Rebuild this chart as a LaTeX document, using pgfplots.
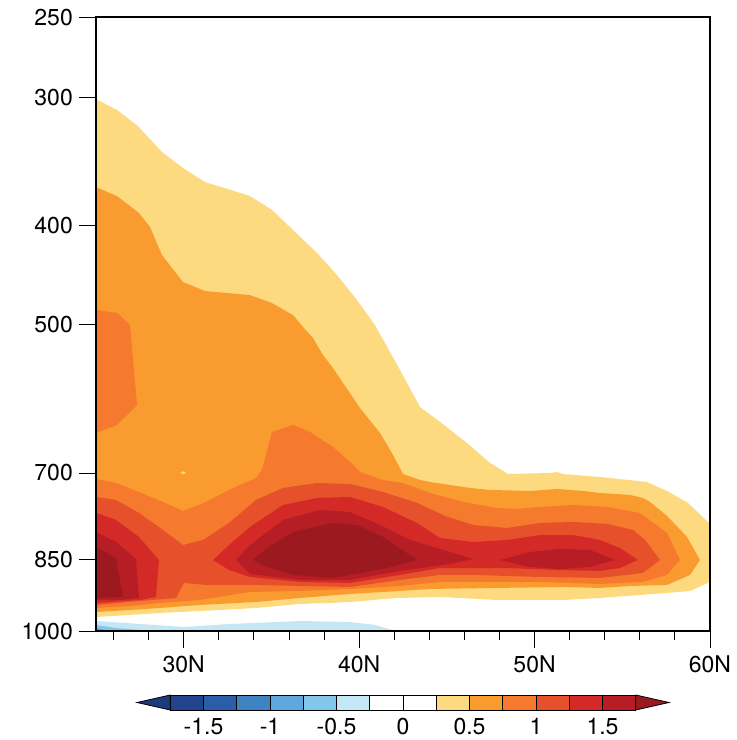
\documentclass[border=0pt]{standalone}
\usepackage{fontspec}
\setmainfont{TeX Gyre Heros}
\usepackage{pgfplots}
\pgfplotsset{compat=1.18}

\definecolor{cb1}{HTML}{1C3A7C}
\definecolor{cb2}{HTML}{22448C}
\definecolor{cb3}{HTML}{2A5EA8}
\definecolor{cb4}{HTML}{3F84C2}
\definecolor{cb5}{HTML}{5EA8DC}
\definecolor{cb6}{HTML}{82C6EC}
\definecolor{cb7}{HTML}{C4E7F6}
\definecolor{cr1}{HTML}{FDD980}
\definecolor{cr2}{HTML}{FA9B30}
\definecolor{cr3}{HTML}{F57A2E}
\definecolor{cr4}{HTML}{E6512B}
\definecolor{cr5}{HTML}{D42A27}
\definecolor{cr6}{HTML}{B61D24}
\definecolor{cr7}{HTML}{9C1A1F}

\begin{document}
\begin{tikzpicture}
\useasboundingbox (0,0) rectangle (737pt,740pt);

\begin{axis}[
    at={(96pt,109pt)}, anchor=south west,
    width=614pt, height=614pt, scale only axis,
    xmin=25, xmax=60, ymin=250, ymax=1000,
    ymode=log, y dir=reverse,
    xtick={30,40,50,60}, xticklabels={30N,40N,50N,60N},
    minor xtick={26,28,...,58},
    ytick={250,300,400,500,700,850,1000},
    yticklabels={250,300,400,500,700,850,1000},
    yminorticks=false,
    tick align=outside, xtick pos=left, ytick pos=left,
    major tick length=17pt, minor tick length=9pt,
    every tick/.style={black, line width=0.9pt},
    axis line style={line width=1.2pt},
    axis on top,
    tick label style={font=\fontsize{23}{26}\selectfont},
    xticklabel style={anchor=north, inner sep=0pt, yshift=-8pt},
    yticklabel style={anchor=east, inner sep=0pt, xshift=-6pt},
]
% >= 0.25
\addplot[fill=cr1, draw=none] coordinates {
 (25,300.9) (26.20,308.4) (27.39,319.8) (28.76,339.1) (29.96,351.6) (31.21,362.9)
 (32.52,368.7) (33.78,374.6) (35.03,386.5) (36.23,404.4) (37.60,425.9) (38.79,448.7)
 (39.88,473.7) (40.90,501.1) (42.33,554.7) (43.47,603.1) (44.61,623.8) (46.15,654.1)
 (47.46,684.3) (48.49,701.5) (50.88,699.9) (51.28,698.4) (51.62,701.5) (53.73,706.3)
 (56.41,714.4) (57.55,728.9) (58.74,748.9) (60,785.2) (60,895.1) (58.86,913.5)
 (57.55,917.6) (53.73,928.1) (51.62,932.3) (47.86,932.3) (44.61,926.0) (42.16,928.1)
 (39.48,936.5) (38.34,938.6) (36.63,940.7) (34.12,949.3) (30.93,955.8) (28.65,960.1)
 (26.94,964.4) (25,968.8)
} -- cycle;
% >= 0.5
\addplot[fill=cr2, draw=none] coordinates {
 (25,367.0) (26.20,374.6) (27.45,389.1) (28.08,401.7) (28.76,427.9) (29.96,454.8)
 (31.21,464.1) (33.78,468.4) (35.03,476.9) (36.23,490.0) (36.80,503.4) (37.37,516.1)
 (37.94,536.3) (38.51,552.2) (39.08,571.2) (40.05,604.5) (41.19,639.5) (41.87,669.1)
 (42.50,701.5) (43.47,711.1) (44.04,714.4) (46.32,724.0) (47.46,727.3) (49.74,728.9)
 (51.28,725.7) (52.76,728.9) (53.73,732.2) (55.44,735.6) (56.18,740.6) (56.58,747.3)
 (57.55,771.3) (58.69,808.7) (59.43,851.8) (58.86,881.1) (57.55,901.2) (55.44,903.3)
 (53.73,907.3) (51.62,905.3) (47.86,907.3) (44.04,909.4) (42.33,913.5) (39.48,919.7)
 (36.63,928.1) (34.12,936.5) (30.93,942.9) (28.65,949.3) (26.94,953.6) (25,958.0)
} -- cycle;
% small speck >= 0.25 inside
\addplot[fill=cr1, draw=none] coordinates {
 (29.79,699.9) (29.96,697.2) (30.14,699.9) (29.96,701.5)
} -- cycle;
% >= 0.75, left island
\addplot[fill=cr3, draw=none] coordinates {
 (25,484.5) (26.20,487.7) (26.94,501.1) (27.34,600.4) (26.20,627.9) (25,639.5)
} -- cycle;
% >= 0.75, main
\addplot[fill=cr3, draw=none] coordinates {
 (25,709.5) (26.14,715.9) (27.45,730.6) (28.82,747.2) (29.96,762.6) (31.27,747.2)
 (32.58,727.3) (34.12,707.9) (34.46,695.2) (35.03,638.0) (36.23,627.9) (37.20,638.0)
 (38.51,660.1) (39.48,682.7) (40.05,698.4) (41.36,711.1) (42.50,715.9) (44.04,732.2)
 (45.92,747.2) (47.86,757.5) (49.00,759.2) (50.31,755.8) (52.19,752.4) (54.13,755.8)
 (56.01,766.0) (57.55,801.4) (58.29,851.8) (57.55,881.1) (56.18,895.1) (53.73,899.2)
 (50.31,895.1) (46.49,895.1) (44.61,895.1) (42.33,903.3) (39.48,909.4) (36.63,913.5)
 (33.78,915.6) (30.93,932.3) (28.65,938.6) (26.94,945.1) (25,949.3)
} -- cycle;
% >= 1.0
\addplot[fill=cr4, draw=none] coordinates {
 (25,738.9) (26.14,743.9) (27.45,766.0) (28.82,796.1) (29.96,823.5) (31.10,814.2)
 (32.58,783.6) (34.12,743.9) (35.66,724.0) (37.60,715.9) (39.48,717.5) (41.36,730.6)
 (43.30,748.9) (44.90,771.3) (46.49,787.1) (48.43,792.5) (50.31,783.6) (52.19,781.7)
 (54.13,785.2) (55.61,796.1) (56.30,814.2) (57.15,851.8) (56.18,877.1) (53.73,887.1)
 (50.31,885.1) (46.49,881.1) (44.61,881.1) (42.33,891.1) (39.48,905.3) (36.63,903.3)
 (34.12,901.2) (31.27,901.2) (30.02,897.1) (29.56,928.1) (27.51,934.4) (25,942.9)
} -- cycle;
% >= 1.25
\addplot[fill=cr5, draw=none] coordinates {
 (25,766.0) (26.14,778.2) (27.45,808.7) (28.59,851.8) (28.42,926.0) (27.51,932.3) (25,938.6)
} -- cycle;
\addplot[fill=cr5, draw=none] coordinates {
 (31.67,851.8) (32.58,823.5) (33.78,790.7) (35.66,752.4) (37.60,740.6) (39.48,738.9)
 (41.36,755.8) (43.30,783.6) (44.61,810.5) (46.49,817.9) (48.43,814.2) (50.31,805.1)
 (52.19,805.1) (53.73,814.2) (54.87,829.1) (55.89,851.8) (54.87,867.4) (53.73,873.2)
 (51.28,871.3) (48.43,867.4) (46.49,867.4) (44.61,867.4) (42.33,881.1) (39.48,897.1)
 (36.63,895.1) (33.78,885.1) (32.58,871.3)
} -- cycle;
% >= 1.5
\addplot[fill=cr6, draw=none] coordinates {
 (25,799.6) (26.14,817.8) (27.28,849.9) (27.45,928.1) (26.37,932.3) (25,932.3)
} -- cycle;
\addplot[fill=cr6, draw=none] coordinates {
 (32.98,851.8) (33.78,823.5) (35.66,778.2) (37.77,760.9) (39.48,764.4) (41.19,787.1)
 (42.90,814.2) (45.18,836.6) (46.49,849.9) (45.18,859.5) (42.33,873.2) (39.48,891.1)
 (36.63,891.1) (33.78,879.1)
} -- cycle;
\addplot[fill=cr6, draw=none] coordinates {
 (48.03,851.8) (49.74,836.6) (51.45,830.9) (53.16,832.8) (54.58,851.8) (53.16,865.4)
 (51.45,869.4) (49.74,865.4)
} -- cycle;
% >= 1.75
\addplot[fill=cr7, draw=none] coordinates {
 (25,827.2) (26.14,848.0) (26.54,926.0) (25,928.1)
} -- cycle;
\addplot[fill=cr7, draw=none] coordinates {
 (33.95,851.8) (34.75,829.1) (36.23,799.6) (38.51,783.6) (39.88,787.1) (41.36,808.7)
 (43.30,851.8) (41.36,869.4) (38.51,887.1) (36.23,881.1) (34.75,865.4)
} -- cycle;
% <= -0.25 near the surface
\addplot[fill=cb7, draw=none] coordinates {
 (25,977.6) (27.51,984.2) (30.02,990.9) (32.64,984.2) (36.63,977.6) (39.48,979.8)
 (40.90,986.4) (42.10,1000) (25,1000)
} -- cycle;
\addplot[fill=cb6, draw=none] coordinates {
 (25,986.4) (26.09,993.1) (27.51,997.5) (28.65,1000) (25,1000)
} -- cycle;
\addplot[fill=cb5, draw=none] coordinates {
 (25,993.1) (25.80,1000) (25,1000)
} -- cycle;
\end{axis}

% colour bar
\begin{axis}[
    at={(137pt,30pt)}, anchor=south west,
    width=532pt, height=15pt, scale only axis,
    xmin=-2, xmax=2, ymin=0, ymax=1,
    clip=false,
    axis line style={draw=none},
    major tick length=0pt,
    ytick=\empty,
    xtick={-1.5,-1,-0.5,0,0.5,1,1.5},
    xticklabels={-1.5,-1,-0.5,0,0.5,1,1.5},
    xtick pos=left,
    tick label style={font=\fontsize{23}{26}\selectfont},
    xticklabel style={anchor=north, inner sep=0pt, yshift=-8pt},
]
\addplot[fill=cb1, draw=black, line width=0.8pt] coordinates {(-1.75,0) (-2,0.5) (-1.75,1)} -- cycle;
\addplot[fill=cb2, draw=black, line width=0.8pt] coordinates {(-1.75,0) (-1.5,0) (-1.5,1) (-1.75,1)} -- cycle;
\addplot[fill=cb3, draw=black, line width=0.8pt] coordinates {(-1.5,0) (-1.25,0) (-1.25,1) (-1.5,1)} -- cycle;
\addplot[fill=cb4, draw=black, line width=0.8pt] coordinates {(-1.25,0) (-1,0) (-1,1) (-1.25,1)} -- cycle;
\addplot[fill=cb5, draw=black, line width=0.8pt] coordinates {(-1,0) (-0.75,0) (-0.75,1) (-1,1)} -- cycle;
\addplot[fill=cb6, draw=black, line width=0.8pt] coordinates {(-0.75,0) (-0.5,0) (-0.5,1) (-0.75,1)} -- cycle;
\addplot[fill=cb7, draw=black, line width=0.8pt] coordinates {(-0.5,0) (-0.25,0) (-0.25,1) (-0.5,1)} -- cycle;
\addplot[fill=white, draw=black, line width=0.8pt] coordinates {(-0.25,0) (0,0) (0,1) (-0.25,1)} -- cycle;
\addplot[fill=white, draw=black, line width=0.8pt] coordinates {(0,0) (0.25,0) (0.25,1) (0,1)} -- cycle;
\addplot[fill=cr1, draw=black, line width=0.8pt] coordinates {(0.25,0) (0.5,0) (0.5,1) (0.25,1)} -- cycle;
\addplot[fill=cr2, draw=black, line width=0.8pt] coordinates {(0.5,0) (0.75,0) (0.75,1) (0.5,1)} -- cycle;
\addplot[fill=cr3, draw=black, line width=0.8pt] coordinates {(0.75,0) (1,0) (1,1) (0.75,1)} -- cycle;
\addplot[fill=cr4, draw=black, line width=0.8pt] coordinates {(1,0) (1.25,0) (1.25,1) (1,1)} -- cycle;
\addplot[fill=cr5, draw=black, line width=0.8pt] coordinates {(1.25,0) (1.5,0) (1.5,1) (1.25,1)} -- cycle;
\addplot[fill=cr6, draw=black, line width=0.8pt] coordinates {(1.5,0) (1.75,0) (1.75,1) (1.5,1)} -- cycle;
\addplot[fill=cr7, draw=black, line width=0.8pt] coordinates {(1.75,0) (2,0.5) (1.75,1)} -- cycle;
\end{axis}
\end{tikzpicture}
\end{document}
